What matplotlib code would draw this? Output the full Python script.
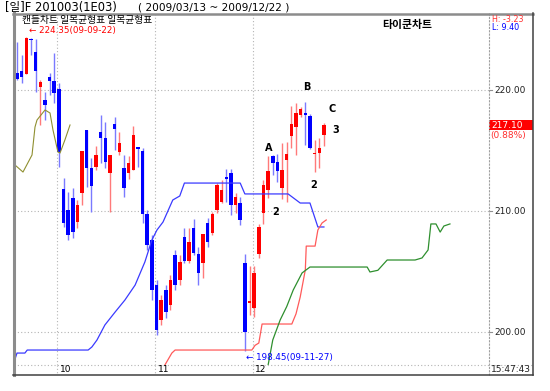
import numpy as np
import matplotlib.pyplot as plt
from matplotlib.lines import Line2D
from matplotlib.patches import Rectangle
from matplotlib.transforms import blended_transform_factory

plt.rcParams['font.family'] = ['Noto Sans CJK KR', 'DejaVu Sans']
LAT = 'DejaVu Sans'

# daily candles, index 0 = 2009-09-10 ... index 66 = 2009-12-22
opens = [221.40, 221.55, 221.30, 224.20, 223.15, 220.25, 219.15, 221.05, 220.75, 220.10,
         211.80, 210.10, 211.05, 209.10, 211.50, 216.70, 213.55, 213.65, 216.55, 216.05,
         213.15, 217.20, 214.90, 213.55, 213.15, 213.40, 215.30, 214.95, 209.75, 207.60,
         203.90, 201.00, 203.45, 202.25, 206.35, 204.30, 207.85, 205.85, 208.60, 206.45,
         205.70, 209.00, 208.20, 210.10, 210.75, 212.80, 213.15, 210.50, 210.65, 205.70,
         202.40, 201.95, 206.45, 209.85, 211.75, 214.55, 214.05, 211.90, 214.20, 216.20,
         216.95, 217.95, 218.10, 217.85, 214.70, 214.80, 216.30]
highs = [223.95, 222.90, 224.35, 224.30, 224.20, 220.85, 219.85, 221.40, 223.05, 220.60,
         212.75, 211.60, 211.90, 210.90, 214.95, 216.70, 214.40, 215.35, 217.95, 217.35,
         214.65, 217.75, 216.55, 214.65, 214.55, 217.05, 215.30, 215.20, 210.10, 208.00,
         204.30, 203.05, 203.90, 204.70, 206.80, 206.35, 208.60, 208.60, 209.35, 207.05,
         208.10, 209.40, 209.90, 212.30, 212.55, 213.45, 213.45, 211.50, 211.15, 206.45,
         205.45, 205.45, 208.95, 212.55, 214.55, 214.65, 214.70, 215.60, 215.70, 218.70,
         218.95, 218.60, 219.00, 218.00, 215.85, 216.05, 217.25]
lows = [220.85, 220.60, 221.30, 222.90, 219.85, 217.10, 217.50, 219.60, 218.95, 213.65,
        208.70, 207.60, 207.75, 208.60, 210.50, 211.95, 209.90, 213.40, 213.95, 213.55,
        209.90, 215.05, 214.65, 211.15, 212.65, 213.40, 213.65, 209.00, 206.80, 202.65,
        199.75, 200.60, 201.15, 201.80, 203.45, 203.90, 205.70, 205.70, 206.35, 203.90,
        204.45, 207.05, 208.00, 209.85, 210.65, 210.75, 209.65, 209.85, 208.85, 198.45,
        201.40, 201.25, 206.10, 208.95, 211.05, 212.95, 212.40, 211.00, 210.75, 215.20,
        214.65, 217.75, 215.45, 215.10, 213.20, 213.55, 215.35]
closes = [220.90, 221.05, 224.30, 224.15, 221.55, 220.65, 218.75, 220.75, 219.75, 214.90,
          209.00, 208.00, 208.25, 210.50, 214.95, 213.55, 212.05, 214.65, 216.05, 214.05,
          214.65, 216.80, 215.60, 211.90, 213.95, 216.30, 215.10, 209.75, 207.20, 203.50,
          200.15, 202.65, 201.65, 204.30, 203.90, 205.80, 205.85, 207.45, 206.55, 204.90,
          208.10, 207.45, 209.75, 212.15, 211.75, 212.65, 210.50, 211.15, 209.25, 200.00,
          202.55, 204.90, 208.70, 212.15, 213.30, 213.95, 213.30, 213.40, 214.70, 217.20,
          218.10, 218.45, 217.95, 215.20, 214.80, 215.20, 217.10]

month_labels = ['10', '11', '12']
month_start = [9, 30, 51]

# ichimoku lines: (day index, price)
blue_x = [-1, 0, 1.7, 2.2, 15.3, 16.1, 17.2, 18.9, 21.1, 23.2, 25.4, 27.5, 29, 30.1,
          31.4, 33.5, 35, 36, 48, 49, 58.3, 60.9, 63, 64.7, 66]
blue_y = [197.1, 198.26, 198.26, 198.51, 198.51, 198.76, 199.34, 200.58, 201.65, 202.64,
          203.88, 205.79, 207.60, 208.43, 209.09, 210.91, 211.24, 212.31, 212.31, 211.41,
          211.41, 210.66, 210.66, 208.68, 208.68]
red_x = [31, 31.8, 33.3, 34, 50.5, 51.2, 52, 52.7, 59.1, 60, 60.9, 62, 62.2, 64.1,
         64.7, 65.6, 66.5]
red_y = [196.8, 197.27, 198.26, 198.51, 198.51, 198.9, 199.09, 200.66, 200.66, 201.5,
         202.89, 205.13, 207.1, 207.1, 208.43, 209.01, 209.26]
green_x = [53.5, 54, 55, 56.6, 58, 59.4, 61.3, 63, 75.3, 75.9, 77.6, 79.6, 85.6, 87.1,
           88.4, 89, 90.1, 91, 91.8, 93.1]
green_y = [196.8, 197.27, 199.34, 201.0, 202.1, 203.47, 204.88, 205.37, 205.37, 204.96,
           205.1, 205.95, 205.95, 206.12, 206.78, 208.93, 208.93, 208.26, 208.76, 208.93]
olive_x = [-0.43, 1.29, 3.23, 3.87, 4.3, 6.02, 7.1, 7.74, 8.8, 9.25, 10.3, 11.4]
olive_y = [213.80, 213.22, 214.63, 216.94, 217.52, 218.35, 218.10, 216.69, 214.88,
           214.79, 215.87, 217.11]

W, H = 550, 391


def fx(x):
    return x / W


def fy(y):
    return 1 - y / H


fig = plt.figure(figsize=(5.5, 3.91), dpi=100)
ax = fig.add_axes([fx(14), fy(365), fx(489) - fx(14), fy(13) - fy(365)])
ax.set_xlim(-0.645, 101.5)
ax.set_ylim(197.273, 226.364)
ax.axis('off')

grid = dict(color='#b4b4b4', lw=0.8, ls=(0, (1, 2)))
for v in [200, 210, 220]:
    ax.axhline(v, **grid, zorder=0)
for m in month_start:
    ax.axvline(m - 0.35, **grid, zorder=0)

# ichimoku lines
ax.plot(olive_x, olive_y, color='#8f8f30', lw=0.8, zorder=3)
ax.plot(blue_x, blue_y, color='#3a3aff', lw=0.9, zorder=3)
ax.plot(red_x, red_y, color='#ff5a5a', lw=0.9, zorder=3)
ax.plot(green_x, green_y, color='#2e8f2e', lw=0.9, zorder=3)

# candles
o = np.array(opens)
c = np.array(closes)
idx = np.arange(len(o))
up = c >= o
body_col = np.where(up, '#ff0000', '#0000ff')
wick_col = np.where(up, '#ff7a7a', '#7a7aff')
ax.vlines(idx, lows, highs, colors=wick_col, lw=1.0, zorder=2)
ax.bar(idx, np.maximum(np.abs(c - o), 0.1), bottom=np.minimum(o, c), width=0.75,
       color=body_col, linewidth=0, zorder=2)

# marks on the chart
ax.text(2.5, 224.9, '\u2190 224.35(09-09-22)', color='#ff0000', fontsize=6.3,
        va='center', ha='left', family=LAT)
ax.text(49.3, 197.9, '\u2190 198.45(09-11-27)', color='#0000ff', fontsize=6.3,
        va='center', ha='left', family=LAT)
for lab, xi, yv in [('A', 54.2, 215.2), ('B', 62.4, 220.25), ('C', 67.7, 218.43),
                    ('3', 68.6, 216.69), ('2', 63.7, 212.15), ('2', 55.7, 209.92)]:
    ax.text(xi, yv, lab, fontsize=7, fontweight='bold', ha='center', va='center',
            family=LAT)

# header texts
fig.text(fx(5), fy(10.5), '[일]F 201003(1E03)', fontsize=8.3, va='baseline',
         family=[LAT, 'Noto Sans CJK KR'])
fig.text(fx(138), fy(10.5), '( 2009/03/13 ~ 2009/12/22 )', fontsize=7.6,
         va='baseline', family=LAT)
fig.text(fx(22), fy(20), '캔들차트 일목균형표 일목균형표', fontsize=7, va='center')
fig.text(fx(382), fy(25), '타이쿤차트', fontsize=7.8, va='center', fontweight='bold')
fig.text(fx(492), fy(20), 'H: -3.23', fontsize=5.8, va='center', color='#ff3030',
         family=LAT)
fig.text(fx(492), fy(27.5), 'L: 9.40', fontsize=5.8, va='center', color='#0000ff',
         family=LAT)

# right price panel
tr = blended_transform_factory(fig.transFigure, ax.transData)
for v in [200, 210, 220]:
    fig.add_artist(Line2D([fx(489), fx(492)], [v, v], transform=tr, color='#909090',
                          lw=0.8))
    fig.text(fx(494), v, f'{v:.2f}', transform=tr, fontsize=6.5, va='center',
             color='#202020', family=LAT)
last = closes[-1]
fig.add_artist(Rectangle((fx(489), last - 0.41), fx(533) - fx(489), 0.83,
                         transform=tr, color='#ff0000', lw=0))
fig.text(fx(491), last, f'{last:.2f}', transform=tr, fontsize=6.5, va='center',
         color='white', family=LAT)
fig.text(fx(490.5), last - 0.85, '(0.88%)', transform=tr, fontsize=6.5, va='center',
         color='#ff3030', family=LAT)

# bottom axis row
trx = blended_transform_factory(ax.transData, fig.transFigure)
for m, lab in zip(month_start, month_labels):
    fig.add_artist(Line2D([m - 0.35, m - 0.35], [fy(365), fy(375)], transform=trx,
                          **grid))
    fig.text(m - 0.35 + 0.6, fy(370), lab, transform=trx, fontsize=6.5, va='center',
             family=LAT)
fig.text(fx(511), fy(370), '15:47:43', fontsize=6.5, va='center', ha='center',
         color='#202020', family=LAT)

# frame
fig.add_artist(Line2D([fx(14), fx(533)], [fy(365), fy(365)], **grid))
fig.add_artist(Line2D([fx(489), fx(489)], [fy(13), fy(375)], color='#a0a0a0', lw=0.8,
                      ls=(0, (2, 1))))
fig.add_artist(Line2D([fx(13), fx(533)], [fy(13.5), fy(13.5)], color='#8c8c8c', lw=1.8))
fig.add_artist(Line2D([fx(13.5), fx(13.5)], [fy(13), fy(375)], color='#8c8c8c', lw=2.2))
fig.add_artist(Line2D([fx(533), fx(533)], [fy(13), fy(375)], color='#404040', lw=1.1))
fig.add_artist(Line2D([fx(13), fx(533)], [fy(375), fy(375)], color='#404040', lw=1.1))

fig.savefig('out.png', dpi=100)
